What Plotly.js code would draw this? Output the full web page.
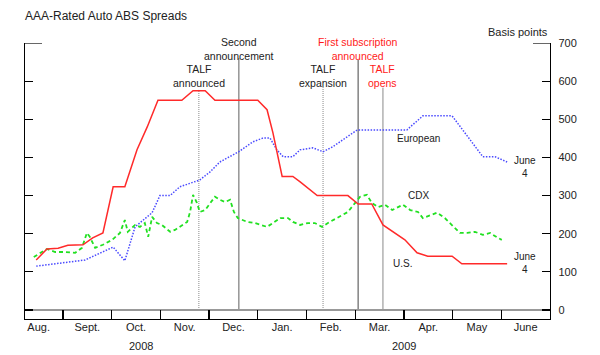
<!DOCTYPE html>
<html>
<head>
<meta charset="utf-8">
<script src="https://cdn.plot.ly/plotly-3.0.1.min.js"></script>
<style>html,body{margin:0;padding:0;background:#fff;}#chart{width:600px;height:355px;}</style>
</head>
<body>
<div id="chart"></div>
<script>
// x values are months since Aug 1, 2008 (Sept 1 = 1, ..., June 1 = 10)
const monthLabels = ["Aug.","Sept.","Oct.","Nov.","Dec.","Jan.","Feb.","Mar.","Apr.","May","June"];
const monthStarts = [0,1,2,3,4,5,6,7,8,9,10];
const yearLabels = ["2008","2009"];
const yearPos = [2.6, 8.0];

const usX = [0.45,0.67,0.90,1.10,1.41,1.61,1.82,2.03,2.27,2.52,2.73,2.95,3.44,3.67,3.92,4.12,5.00,5.19,5.31,5.50,5.72,5.87,6.22,6.85,7.06,7.34,7.57,8.02,8.27,8.49,8.99,9.19,10.12];
const usY = [131,160,162,170,171,189,202,323,323,420,480,550,550,575,575,550,550,525,465,350,350,336,300,300,278,278,223,184,150,141,141,121,121];

const euX = [0.45,0.90,1.45,2.03,2.27,2.48,2.83,2.99,3.20,3.40,3.81,4.02,4.22,4.61,4.90,5.11,5.25,5.39,5.52,5.72,5.87,6.13,6.34,6.54,7.04,8.06,8.39,8.99,9.62,9.87,10.12];
const euY = [115,123,131,165,129,218,255,300,300,323,341,362,388,415,441,451,451,420,402,402,420,425,415,428,472,472,509,509,402,402,388];

const cdxX = [0.40,0.53,0.67,0.84,1.04,1.25,1.39,1.49,1.55,1.66,1.82,2.01,2.17,2.27,2.33,2.48,2.58,2.68,2.75,2.83,2.93,3.03,
              3.20,3.30,3.40,3.55,3.61,3.67,3.75,3.81,3.92,4.02,4.12,4.22,4.33,4.43,4.51,4.59,4.78,4.94,5.05,5.19,5.31,5.46,5.62,5.72,5.87,
              6.03,6.17,6.32,6.44,6.65,6.85,7.00,7.10,7.24,7.34,7.47,7.61,7.76,7.98,8.13,8.29,8.39,8.58,8.68,8.84,8.95,9.05,9.15,9.30,9.46,9.62,9.77,9.93,10.01];
const cdxY = [139,150,160,152,152,150,163,202,192,163,171,184,202,236,205,223,218,228,192,244,228,223,
              205,210,218,231,257,302,281,257,262,281,297,289,283,289,257,241,231,228,223,218,228,241,241,231,223,
              228,228,218,228,244,257,281,297,302,281,270,276,262,276,262,257,241,250,255,241,228,215,202,202,205,197,202,189,184];

const eventX = [3.79, 4.61, 6.34, 7.06, 7.57];
const eventTop = [577, 661, 585, 656, 583];
const eventLabels = ["TALF<br>announced","Second<br>announcement","TALF<br>expansion","First subscription<br>announced","TALF<br>opens"];
const eventLabelY = [614, 685, 614, 684, 614];
const eventTextColor = ["#222","#222","#222","#ff1a1a","#ff1a1a"];
const eventLineColor = ["#8a8a8a","#9a9a9a","#8a8a8a","#555555","#8a8a8a"];
const eventLineDash = ["1px,1px","solid","1px,1px","solid","solid"];
const eventLineWidth = [1,1.6,1,1.1,1];

const seriesLabels = [
  {text:"European", x:8.29, y:449},
  {text:"CDX", x:8.29, y:299},
  {text:"U.S.", x:7.98, y:123},
  {text:"June<br>4", x:10.49, y:374},
  {text:"June<br>4", x:10.49, y:124}
];

const FONT = "Liberation Sans, Arial, sans-serif";

const traces = [
  {x: euX, y: euY, type:"scatter", mode:"lines", line:{color:"#4a4aff", width:1.5, dash:"1.5px,1.5px"}, hoverinfo:"skip"},
  {x: cdxX, y: cdxY, type:"scatter", mode:"lines", line:{color:"#22e022", width:1.8, dash:"4px,3px"}, hoverinfo:"skip"},
  {x: usX, y: usY, type:"scatter", mode:"lines", line:{color:"#ff2a2a", width:1.5}, hoverinfo:"skip"},
  {x: [], y: [], xaxis:"x2", type:"scatter", hoverinfo:"skip"}
];

const shapes = eventX.map((x,i)=>({
  type:"line", xref:"x", yref:"y", x0:x, x1:x, y0:0, y1:eventTop[i],
  line:{color:eventLineColor[i], width:eventLineWidth[i], dash:eventLineDash[i]}, layer:"below"
}));
// longer ticks at the 700 level on both side axes
shapes.push({type:"line", xref:"paper", xsizemode:"pixel", xanchor:0, x0:0, x1:17, yref:"y", y0:700, y1:700, line:{color:"#000", width:1.2}});
shapes.push({type:"line", xref:"paper", xsizemode:"pixel", xanchor:1, x0:-17, x1:0, yref:"y", y0:700, y1:700, line:{color:"#000", width:1.2}});

const annotations = [];
eventX.forEach((x,i)=>annotations.push({
  x:x, y:eventLabelY[i], xref:"x", yref:"y", text:eventLabels[i], showarrow:false,
  font:{family:FONT, size:10.5, color:eventTextColor[i]}, align:"center", xanchor:"center", yanchor:"middle"
}));
seriesLabels.forEach(s=>annotations.push({
  x:s.x, y:s.y, xref:"x", yref:"y", text:s.text, showarrow:false,
  font:{family:FONT, size:10, color:"#222"}, align:"center", xanchor:"center", yanchor:"middle"
}));
yearLabels.forEach((t,i)=>annotations.push({
  x:yearPos[i], y:-0.098, xref:"x", yref:"paper", text:t, showarrow:false,
  font:{family:FONT, size:11, color:"#222"}, xanchor:"center", yanchor:"middle"
}));
annotations.push({
  x:1, y:1.04, xref:"paper", yref:"paper", text:"Basis points", showarrow:false,
  font:{family:FONT, size:11, color:"#222"}, xanchor:"right", yanchor:"middle"
});

const layout = {
  width:600, height:355,
  margin:{l:25, r:50, t:43, b:36, pad:0},
  paper_bgcolor:"#fff", plot_bgcolor:"#fff",
  showlegend:false,
  title:{text:"AAA-Rated Auto ABS Spreads", x:25/600, xref:"container", xanchor:"left", y:1-16/355, yanchor:"middle",
         font:{family:FONT, size:12, color:"#222"}},
  xaxis:{range:[0.22, 11.0], tickvals:monthStarts.slice(1), ticktext:monthStarts.slice(1).map(()=>""),
         ticks:"inside", ticklen:9, tickwidth:1.2, tickcolor:"#000", showline:true, linecolor:"#000", linewidth:1.2,
         showgrid:false, zeroline:false, fixedrange:true},
  xaxis2:{range:[0.22, 11.0], overlaying:"x", anchor:"y", side:"bottom",
          tickvals:monthStarts.map(m=>m+0.5), ticktext:monthLabels, ticks:"", showline:false, showgrid:false, zeroline:false,
          tickfont:{family:FONT, size:11, color:"#222"}},
  yaxis:{range:[-23.6, 700], side:"right", tickvals:[0,100,200,300,400,500,600,700],
         ticks:"inside", ticklen:8, tickwidth:1.2, tickcolor:"#000", showline:true, linecolor:"#000", linewidth:1.2,
         mirror:"ticks", showgrid:false, zeroline:true, zerolinecolor:"#999", zerolinewidth:1.2,
         tickfont:{family:FONT, size:11, color:"#222"}, ticklabelstandoff:5},
  shapes:shapes,
  annotations:annotations
};

Plotly.newPlot("chart", traces, layout, {staticPlot:true});
</script>
</body>
</html>
